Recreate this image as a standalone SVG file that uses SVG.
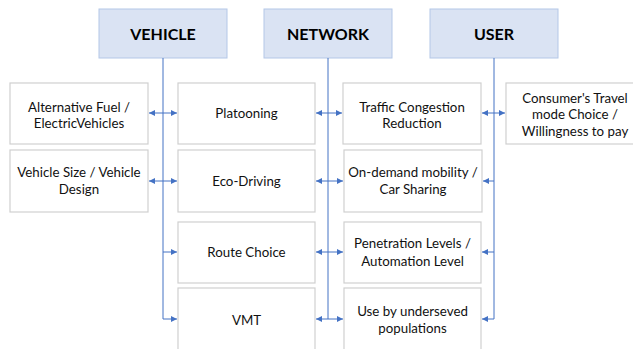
<svg xmlns="http://www.w3.org/2000/svg" width="633" height="349" viewBox="0 0 633 349">
<style>
.hdr{fill:#DAE3F3;stroke:#B4C7E7;stroke-width:1}
.box{fill:#FFFFFF;stroke:#D0D0D0;stroke-width:1.2}
.ht{font-family:Lato,"Open Sans","Liberation Sans",sans-serif;font-weight:bold;font-size:16px;fill:#000;text-anchor:middle}
.t{font-family:Lato,"Open Sans","Liberation Sans",sans-serif;font-size:13.3px;fill:#111;text-anchor:middle}
.c{fill:none;stroke:#4472C4;stroke-width:1}
</style>
<defs>
<marker id="ah" viewBox="0 0 6 6" refX="6" refY="3" markerWidth="6" markerHeight="6" markerUnits="userSpaceOnUse" orient="auto-start-reverse">
<path d="M0,0 L6,3 L0,6 z" fill="#4472C4"/>
</marker>
</defs>
<rect width="633" height="349" fill="#FFFFFF"/>
<g id="vehicle"><rect class="hdr" x="99" y="9" width="128" height="49"/><text class="ht" x="163" y="39.5">VEHICLE</text></g>
<g id="network"><rect class="hdr" x="264" y="9" width="128" height="49"/><text class="ht" x="328" y="39.5">NETWORK</text></g>
<g id="user"><rect class="hdr" x="430" y="9" width="128" height="49"/><text class="ht" x="494" y="39.5">USER</text></g>

<g id="alt-fuel"><rect class="box" x="10" y="83" width="138" height="61"/><text class="t" x="79" y="111.5">Alternative Fuel /</text><text class="t" x="79" y="127.5">ElectricVehicles</text></g>
<g id="vehicle-size"><rect class="box" x="10" y="150" width="138" height="62"/><text class="t" x="79" y="176.5">Vehicle Size / Vehicle</text><text class="t" x="79" y="193.5">Design</text></g>

<g id="platooning"><rect class="box" x="178" y="83" width="137" height="61"/><text class="t" x="246.5" y="117.5">Platooning</text></g>
<g id="eco-driving"><rect class="box" x="178" y="150" width="137" height="62"/><text class="t" x="246.5" y="185.5">Eco-Driving</text></g>
<g id="route-choice"><rect class="box" x="178" y="222" width="137" height="61"/><text class="t" x="246.5" y="256.5">Route Choice</text></g>
<g id="vmt"><rect class="box" x="178" y="288" width="137" height="64"/><text class="t" x="246.5" y="324.5">VMT</text></g>

<g id="traffic"><rect class="box" x="343" y="83" width="138" height="61"/><text class="t" x="412" y="111.5">Traffic Congestion</text><text class="t" x="412" y="127.5">Reduction</text></g>
<g id="on-demand"><rect class="box" x="344" y="150" width="138" height="62"/><text class="t" x="413" y="176.5">On-demand mobility /</text><text class="t" x="413" y="193.5">Car Sharing</text></g>
<g id="penetration"><rect class="box" x="344" y="222" width="137" height="61"/><text class="t" x="412.5" y="247.5">Penetration Levels /</text><text class="t" x="412.5" y="265.5">Automation Level</text></g>
<g id="underserved"><rect class="box" x="344" y="288" width="137" height="64"/><text class="t" x="412.5" y="315.5">Use by underseved</text><text class="t" x="412.5" y="332.5">populations</text></g>

<g id="consumer"><rect class="box" x="506" y="83" width="138" height="61"/><text class="t" x="575" y="102.5">Consumer's Travel</text><text class="t" x="575" y="118.5">mode Choice /</text><text class="t" x="575" y="135.5">Willingness to pay</text></g>

<g id="connectors">
<path class="c" d="M163,58 V319 H177" marker-end="url(#ah)"/>
<path class="c" d="M163,252 H177" marker-end="url(#ah)"/>
<path class="c" d="M149,113 H177" marker-start="url(#ah)" marker-end="url(#ah)"/>
<path class="c" d="M149,181 H177" marker-start="url(#ah)" marker-end="url(#ah)"/>

<path class="c" d="M328,58 V319"/>
<path class="c" d="M316,113 H342" marker-start="url(#ah)" marker-end="url(#ah)"/>
<path class="c" d="M316,181 H343" marker-start="url(#ah)" marker-end="url(#ah)"/>
<path class="c" d="M316,252 H343" marker-start="url(#ah)" marker-end="url(#ah)"/>
<path class="c" d="M316,319 H343" marker-start="url(#ah)" marker-end="url(#ah)"/>

<path class="c" d="M494,58 V319 H482" marker-end="url(#ah)"/>
<path class="c" d="M482,113 H505" marker-start="url(#ah)" marker-end="url(#ah)"/>
<path class="c" d="M494,181 H483" marker-end="url(#ah)"/>
<path class="c" d="M494,252 H482" marker-end="url(#ah)"/>
</g>
</svg>
